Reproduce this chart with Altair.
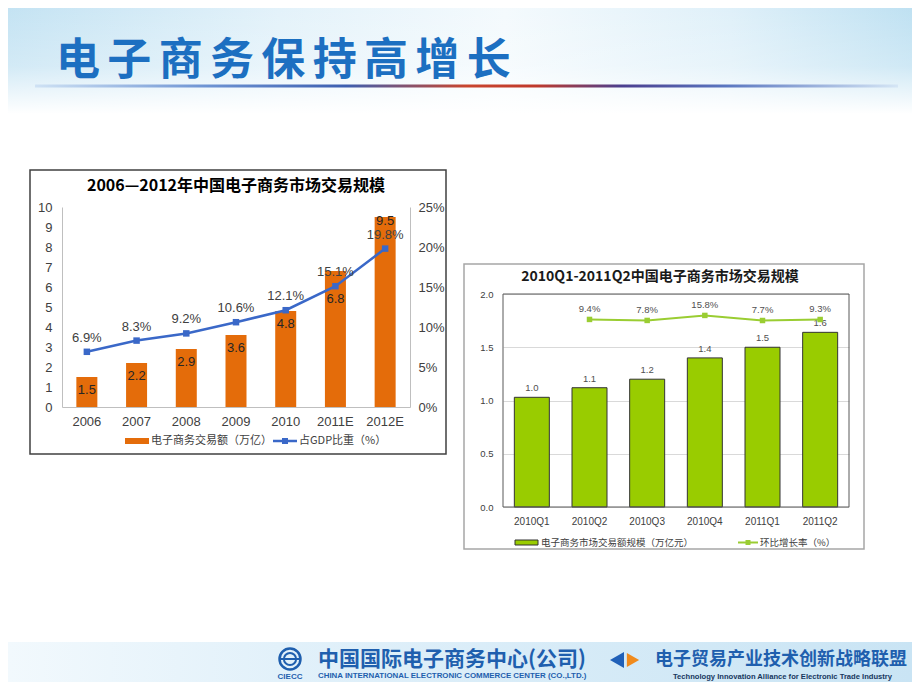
import altair as alt
import pandas as pd

# ---------------- data ----------------
years = ["2006", "2007", "2008", "2009", "2010", "2011E", "2012E"]
volume = [1.5, 2.2, 2.9, 3.6, 4.8, 6.8, 9.5]          # 万亿
gdp_share = [6.9, 8.3, 9.2, 10.6, 12.1, 15.1, 19.8]   # %

quarters = ["2010Q1", "2010Q2", "2010Q3", "2010Q4", "2011Q1", "2011Q2"]
q_volume = [1.03, 1.12, 1.20, 1.40, 1.50, 1.64]       # 万亿元
q_growth = [None, 9.4, 7.8, 15.8, 7.7, 9.3]           # %

left_yticks = [0, 1, 2, 3, 4, 5, 6, 7, 8, 9, 10]
left_pct_ticks = [0, 5, 10, 15, 20, 25]
right_yticks = [0.0, 0.5, 1.0, 1.5, 2.0]

page_title = "电子商务保持高增长"
left_title = "2006—2012年中国电子商务市场交易规模"
right_title = "2010Q1-2011Q2中国电子商务市场交易规模"
left_legend = ["电子商务交易额（万亿）", "占GDP比重（%）"]
right_legend = ["电子商务市场交易额规模（万亿元）", "环比增长率（%）"]
footer_cn_left = "中国国际电子商务中心(公司)"
footer_en_left = "CHINA INTERNATIONAL ELECTRONIC COMMERCE CENTER (CO.,LTD.)"
footer_logo = "CIECC"
footer_cn_right = "电子贸易产业技术创新战略联盟"
footer_en_right = "Technology Innovation Alliance for Electronic Trade Industry"

# ---------------- styles ----------------
CJK = "Noto Sans CJK SC"
NUM = "Liberation Sans Narrow, Liberation Sans, sans-serif"
ORANGE = "#E46C0A"
BLUE = "#3A68C8"
GREEN = "#99CC00"
LGREEN = "#9ACD32"
TITLE_BLUE = "#1C6FC1"
FOOT_BLUE = "#1F5FAE"

one = pd.DataFrame({"k": [0]})


def box(x1, y1, x2, y2, **kw):
    return alt.Chart(one).mark_rect(**kw).encode(
        x=alt.value(x1), x2=alt.value(x2), y=alt.value(y1), y2=alt.value(y2))


def label(x, y, text, **kw):
    kw.setdefault("baseline", "middle")
    return alt.Chart(one).mark_text(text=text, **kw).encode(
        x=alt.value(x), y=alt.value(y))


def hline(x1, x2, y, **kw):
    return alt.Chart(one).mark_rule(**kw).encode(
        x=alt.value(x1), x2=alt.value(x2), y=alt.value(y))


def dot(x, y, **kw):
    return alt.Chart(one).mark_point(**kw).encode(x=alt.value(x), y=alt.value(y))


def grad(stops, x2=1, y2=0):
    return alt.LinearGradient(
        gradient="linear", x1=0, y1=0, x2=x2, y2=y2,
        stops=[alt.GradientStop(offset=o, color=c) for o, c in stops])


# ---------------- left chart (origin at page 62,207) ----------------
OX, OY = 62, 207


def L(x, y):
    return x - OX, y - OY


pg = []
# page background
pg.append(box(*L(8, 8), *L(912, 682), fill="#FFFFFF"))
# top banner
pg.append(box(*L(8, 8), *L(912, 114), fill=grad(
    [(0, "#C4E3F3"), (0.3, "#E3F2FA"), (0.55, "#F4FAFD"), (0.8, "#DFF0F9"), (1, "#BFE1F2")])))
pg.append(box(*L(8, 8), *L(912, 114), fill=grad(
    [(0, "rgba(255,255,255,0)"), (0.55, "rgba(255,255,255,0.25)"), (1, "rgba(255,255,255,1)")], x2=0, y2=1)))
# slide title
tx, ty = L(56, 62)
pg.append(label(tx, ty, "\u2006".join(list(page_title)), align="left", font=CJK,
                fontSize=44, fontWeight="bold", color=TITLE_BLUE))
# underline
pg.append(box(*L(35, 84.5), *L(898, 87.5), fill=grad(
    [(0, "#CFE2F4"), (0.2, "#6D93D3"), (0.36, "#3D5FB0"), (0.5, "#C9452E"), (0.58, "#C0392B"),
     (0.68, "#4B3F8F"), (0.8, "#5A76C0"), (1, "#D5E6F5")])))
# footer band
pg.append(box(*L(8, 642), *L(912, 682), fill=grad(
    [(0, "#F2F9FD"), (0.3, "#E2F1FA"), (1, "#C9E4F4")])))
# footer left logo
pg.append(dot(*L(290, 659), shape="circle", size=440, filled=False, color=FOOT_BLUE,
              strokeWidth=2.5, opacity=1))
pg.append(dot(*L(290, 659), shape="circle", size=150, filled=False, color=FOOT_BLUE,
              strokeWidth=2, opacity=1))
pg.append(hline(L(280, 659)[0], L(300, 659)[0], L(280, 659)[1], color=FOOT_BLUE, strokeWidth=2))
pg.append(label(*L(290, 677), footer_logo, align="center", font="Liberation Sans",
                fontSize=8, fontWeight="bold", color=FOOT_BLUE))
pg.append(label(*L(318, 660), footer_cn_left, align="left", font=CJK, fontSize=21,
                fontWeight="bold", color=FOOT_BLUE))
pg.append(label(*L(318, 676), footer_en_left, align="left", font="Liberation Sans",
                fontSize=7.9, fontWeight="bold", color=FOOT_BLUE))
# footer right logo
pg.append(dot(*L(617, 660), shape="triangle-left", size=260, filled=True, color="#2060B8", opacity=1))
pg.append(dot(*L(633, 660), shape="triangle-right", size=200, filled=True, color="#F08A1C", opacity=1))
pg.append(label(*L(655, 660), footer_cn_right, align="left", font=CJK, fontSize=18,
                fontWeight="bold", color=FOOT_BLUE))
pg.append(label(*L(673, 677), footer_en_right, align="left", font=NUM,
                fontSize=7.6, fontWeight="bold", color="#17375E"))

# left frame, title, legend
pg.append(box(*L(30, 170), *L(446, 454), fill="#FFFFFF", stroke="#404040", strokeWidth=1.5))
pg.append(label(174, -21, left_title, align="center", font=CJK, fontSize=16,
                fontWeight="bold", color="#000000"))
pg.append(box(63, 231, 87, 237, fill=ORANGE))
pg.append(label(89, 234, left_legend[0], align="left", font=CJK, fontSize=11, color="#404040"))
pg.append(hline(211, 235, 234, color=BLUE, strokeWidth=2.5))
pg.append(dot(223, 234, shape="square", size=36, filled=True, color=BLUE, opacity=1))
pg.append(label(237, 234, left_legend[1], align="left", font=CJK, fontSize=11, color="#404040"))

ldf = pd.DataFrame({"year": years, "volume": volume, "share": gdp_share})

lx = alt.X("year:N", sort=years, scale=alt.Scale(paddingInner=0, paddingOuter=0),
           axis=alt.Axis(title=None, labelAngle=0, labelFont=NUM, labelFontSize=13,
                         labelColor="#404040", labelPadding=8, ticks=False,
                         domainColor="#BFBFBF", zindex=1, labelOverlap=False))
ly = alt.Y("volume:Q", scale=alt.Scale(domain=[0, 10]),
           axis=alt.Axis(title=None, orient="left", values=left_yticks, labelFont=NUM,
                         labelFontSize=13, labelColor="#404040", labelPadding=10,
                         ticks=False, grid=False, domainColor="#BFBFBF", zindex=1,
                         labelOverlap=False))

bbase = alt.Chart(ldf).encode(x=lx, y=ly)
bars = bbase.mark_bar(size=21, color=ORANGE)


def bar_text(cond, dy):
    return bbase.transform_filter(cond).mark_text(
        dy=dy, baseline="middle", font=NUM, fontSize=13, color="#262626").encode(
        text=alt.Text("volume:Q", format=".1f"))


bar_part = alt.layer(
    bars,
    bar_text("datum.year != '2011E' && datum.year != '2012E'", 13),
    bar_text("datum.year == '2011E'", 28),
    bar_text("datum.year == '2012E'", 4),
)

ly2 = alt.Y("share:Q", scale=alt.Scale(domain=[0, 25]),
            axis=alt.Axis(title=None, orient="right", values=left_pct_ticks,
                          labelExpr="datum.value + '%'", labelFont=NUM, labelFontSize=13,
                          labelColor="#404040", labelPadding=8, ticks=False, grid=False,
                          domainColor="#BFBFBF", zindex=1, labelOverlap=False))
lbase = alt.Chart(ldf).encode(x=lx, y=ly2)
line_part = alt.layer(
    lbase.mark_line(color=BLUE, strokeWidth=2.5),
    lbase.mark_point(shape="square", filled=True, size=42, color=BLUE, opacity=1),
    lbase.transform_calculate(lab="format(datum.share, '.1f') + '%'").mark_text(
        dy=-14, baseline="middle", font=NUM, fontSize=13, color="#404040").encode(text="lab:N"),
)

left = alt.layer(*pg, bar_part, line_part).resolve_scale(y="independent").properties(
    width=348, height=200)

# ---------------- right chart (origin at page 503,294) ----------------
RX, RY = 503, 294


def R(x, y):
    return x - RX, y - RY


rdf = pd.DataFrame({"q": quarters, "v": q_volume, "g": q_growth})

rdec = []
rdec.append(box(*R(464, 264), *R(864, 549), fill="#FFFFFF", fillOpacity=0,
                stroke="#A6A6A6", strokeWidth=1.5))
rdec.append(label(157, -17, right_title, align="center", font=CJK, fontSize=14,
                  fontWeight="bold", color="#1A1A1A"))
rdec.append(box(12, 246, 35, 251, fill=GREEN, stroke="#333333", strokeWidth=1))
rdec.append(label(38, 248.5, right_legend[0], align="left", font=CJK, fontSize=9.5, color="#404040"))
rdec.append(hline(235, 255, 248.5, color=LGREEN, strokeWidth=2))
rdec.append(dot(245, 248.5, shape="square", size=25, filled=True, color=LGREEN, opacity=1))
rdec.append(label(257, 248.5, right_legend[1], align="left", font=CJK, fontSize=9.5, color="#404040"))

rx = alt.X("q:N", sort=quarters, scale=alt.Scale(paddingInner=0, paddingOuter=0),
           axis=alt.Axis(title=None, labelAngle=0, labelFont="Liberation Sans", labelFontSize=10,
                         labelColor="#404040", labelPadding=9, ticks=False, domain=False,
                         labelOverlap=False))
ry = alt.Y("v:Q", scale=alt.Scale(domain=[0, 2]),
           axis=alt.Axis(title=None, values=right_yticks, format=".1f", labelFont="Liberation Sans",
                         labelFontSize=9.5, labelColor="#404040", labelPadding=10, ticks=False,
                         domain=False, grid=True, gridColor="#D9D9D9", labelOverlap=False))
rbase = alt.Chart(rdf).encode(x=rx, y=ry)
rbar_part = alt.layer(
    rbase.mark_bar(size=35, fill=GREEN, stroke="#333333", strokeWidth=1),
    rbase.mark_text(dy=-9, baseline="middle", font="Liberation Sans", fontSize=9.5,
                    color="#505050").encode(text=alt.Text("v:Q", format=".1f")),
)

gy = alt.Y("g:Q", scale=alt.Scale(domain=[-290, 50]), axis=None)
gbase = alt.Chart(rdf).transform_filter("isValid(datum.g)").encode(x=rx, y=gy)
rline_part = alt.layer(
    gbase.mark_line(color=LGREEN, strokeWidth=2),
    gbase.mark_point(shape="square", filled=True, size=30, color=LGREEN, opacity=1),
    gbase.transform_calculate(lab="format(datum.g, '.1f') + '%'").mark_text(
        dy=-10, baseline="middle", font="Liberation Sans", fontSize=9.5, color="#505050").encode(text="lab:N"),
)

plot_box = box(0, 0, 346, 213, fill="#FFFFFF", fillOpacity=0, stroke="#595959", strokeWidth=1)

right = alt.layer(*rdec, rbar_part, rline_part, plot_box).resolve_scale(y="independent").properties(
    width=346, height=213)

spacer = alt.Chart(one).mark_point(opacity=0).encode(
    x=alt.value(0), y=alt.value(0)).properties(width=346, height=87)

chart = alt.hconcat(
    left,
    alt.vconcat(spacer, right, spacing=0, bounds="flush"),
    spacing=93, bounds="flush",
).properties(padding=0, background="#FFFFFF").configure_view(stroke=None)

chart.save("out.html", embed_options={"renderer": "svg", "actions": False})
